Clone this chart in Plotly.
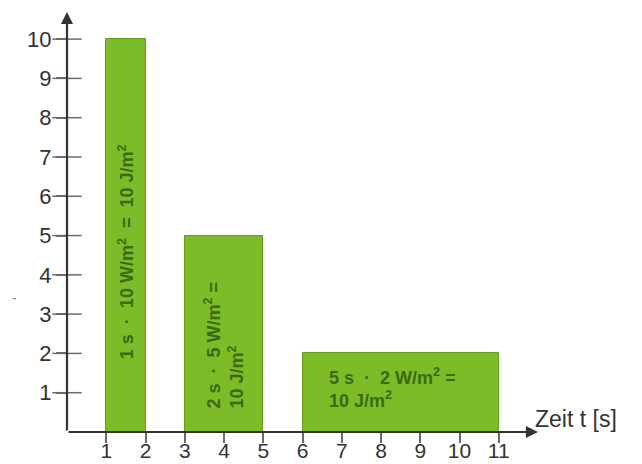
import plotly.graph_objects as go

# Data
starts = [1, 3, 6]            # start time [s]
durations = [1, 2, 5]         # duration [s]
power = [10, 5, 2]            # W/m²
x_ticks = [1, 2, 3, 4, 5, 6, 7, 8, 9, 10, 11]
y_ticks = [1, 2, 3, 4, 5, 6, 7, 8, 9, 10]
bar_labels = [
    "1 s  ·  10 W/m<sup>2</sup>  =  10 J/m<sup>2</sup>",
    "2 s  ·  5 W/m<sup>2</sup> =<br>10 J/m<sup>2</sup>",
    "5 s  ·  2 W/m<sup>2</sup> =<br>10 J/m<sup>2</sup>",
]
x_title = "Zeit t [s]"

mids = [s + d / 2 for s, d in zip(starts, durations)]

FONT = "Liberation Sans, Arial, sans-serif"
AX = "#333333"
TICK = "#6a6a6a"
TXT = "#3a6a12"

fig = go.Figure()
fig.add_trace(go.Bar(
    x=mids, y=power, width=durations,
    marker=dict(color="#7cbc28", line=dict(color="#62a01c", width=1)),
    hoverinfo="skip", showlegend=False,
))
# y tick marks crossing the axis
fig.add_trace(go.Scatter(
    x=[0] * len(y_ticks), y=y_ticks, mode="markers",
    marker=dict(symbol="line-ew", size=21, line=dict(color=TICK, width=1.5)),
    cliponaxis=False, hoverinfo="skip", showlegend=False,
))

XMAX = 12.0
YMAX = 10.69

annotations = [
    # x axis arrow
    dict(x=XMAX, y=0, ax=0, ay=0, xref="x", yref="y", axref="x", ayref="y",
         showarrow=True, arrowhead=2, arrowsize=1.1, arrowwidth=2.2,
         arrowcolor=AX, text="", standoff=0, startstandoff=0),
    # y axis arrow
    dict(x=0, y=YMAX, ax=0, ay=0, xref="x", yref="y", axref="x", ayref="y",
         showarrow=True, arrowhead=2, arrowsize=1.1, arrowwidth=2.2,
         arrowcolor=AX, text="", standoff=0, startstandoff=0),
    dict(x=11.87, y=0.33, xref="x", yref="y", text=x_title, showarrow=False,
         xanchor="left", yanchor="middle",
         font=dict(family=FONT, size=23, color=AX)),
    # bar labels
    dict(x=mids[0], y=4.6, xref="x", yref="y", text="<b>" + bar_labels[0] + "</b>",
         showarrow=False, textangle=-90,
         font=dict(family=FONT, size=18, color=TXT)),
    dict(x=4.0, y=2.2, xref="x", yref="y", text="<b>" + bar_labels[1] + "</b>",
         showarrow=False, textangle=-90, align="left",
         font=dict(family=FONT, size=18, color=TXT)),
    dict(x=6.62, y=1.13, xref="x", yref="y", text="<b>" + bar_labels[2] + "</b>",
         showarrow=False, align="left", xanchor="left", yanchor="middle",
         font=dict(family=FONT, size=18, color=TXT)),
    dict(x=-0.12, y=0.295, xref="paper", yref="paper", text="-",
         showarrow=False, font=dict(family=FONT, size=14, color="#888888")),
]

# the page body adds an 8px offset, so the figure is sized/margined to compensate
fig.update_layout(
    width=634, height=456,
    margin=dict(l=59, r=104, t=4, b=32),
    paper_bgcolor="white", plot_bgcolor="white",
    annotations=annotations,
    bargap=0,
    xaxis=dict(range=[0, XMAX], tickvals=x_ticks, ticktext=[str(v) for v in x_ticks],
               showgrid=False, zeroline=False, showline=False,
               ticks="outside", ticklen=10, tickwidth=1.5, tickcolor=TICK,
               ticklabelstandoff=-10,
               tickfont=dict(family=FONT, size=21, color=AX), automargin=False,
               fixedrange=True),
    yaxis=dict(range=[0, YMAX], tickvals=y_ticks, ticktext=[str(v) for v in y_ticks],
               showgrid=False, zeroline=False, showline=False,
               ticks="outside", ticklen=10, tickwidth=1.5, tickcolor=TICK,
               tickfont=dict(family=FONT, size=22, color=AX), automargin=False,
               fixedrange=True),
)

fig.write_html("out.html")
